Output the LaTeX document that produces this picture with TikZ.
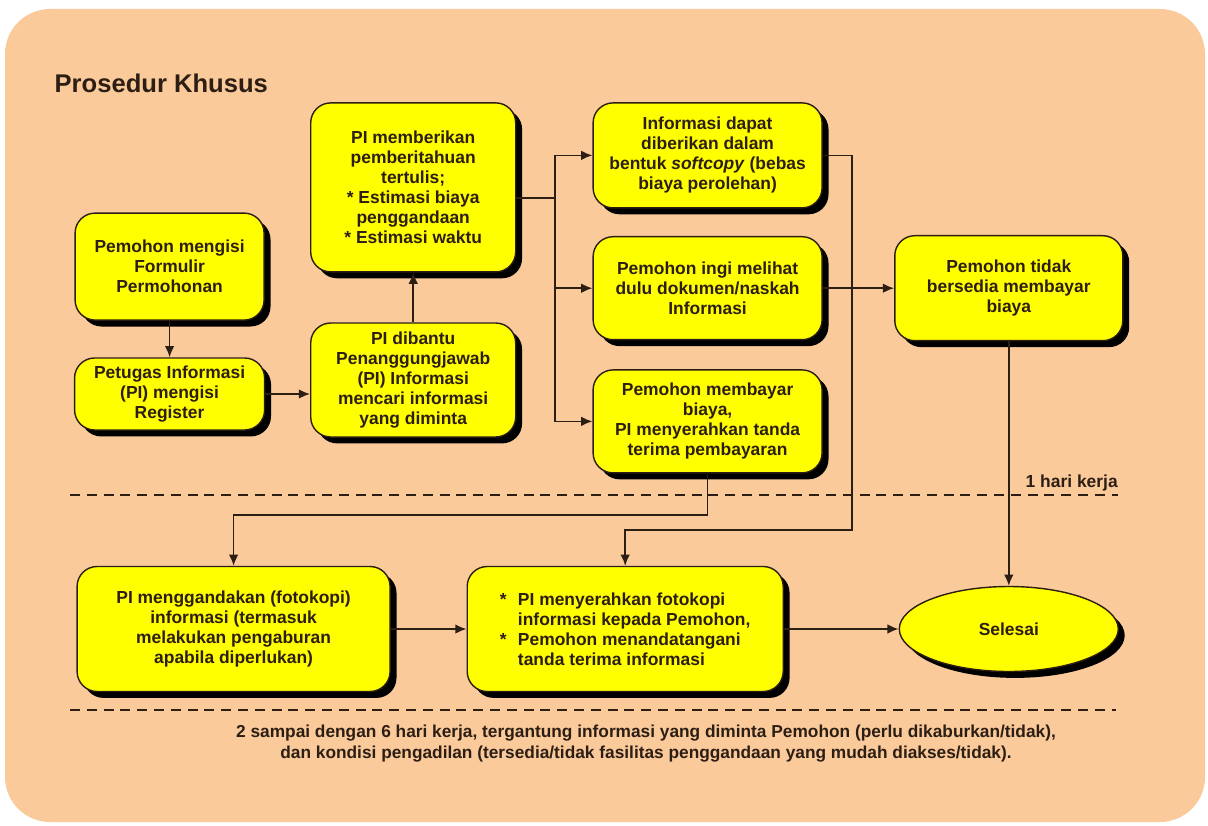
\documentclass[tikz,border=0pt]{standalone}
\usepackage{fontspec}
\setmainfont{Liberation Sans}
\usetikzlibrary{shapes.geometric,shadows,arrows.meta}
\definecolor{latar}{RGB}{250,202,155}
\definecolor{kuning}{RGB}{255,255,0}
\definecolor{gelap}{RGB}{45,30,20}
\tikzset{
    kotak/.style={draw=gelap,line width=1pt,fill=kuning,rounded corners=0.5cm,inner sep=0pt,align=center,text=gelap,font=\fontsize{12.4}{14.2}\selectfont\bfseries,drop shadow={shadow xshift=0.16cm,shadow yshift=-0.16cm,fill=black,opacity=1}},
    panah/.style={draw=gelap,line width=1.2pt,-{Latex[length=2.8mm,width=2.4mm]}},
    garis/.style={draw=gelap,line width=1.4pt,dash pattern=on 0.25cm off 0.17cm},
    tulisan/.style={text=gelap,inner sep=0pt,font=\fontsize{12.4}{14.2}\selectfont\bfseries}
}
\begin{document}
\begin{tikzpicture}
            \useasboundingbox (0,0) rectangle (30.2,20.625);
            \fill[latar,rounded corners=1.125cm] (0.125,0.075) rectangle (30.125,20.4);

            \node[tulisan,anchor=base west,font=\fontsize{18.2}{22}\selectfont\bfseries] (judul) at (1.36, 18.3) {Prosedur Khusus};

            \node[kotak,minimum width=4.725cm,minimum height=2.675cm] (A) at (4.24, 13.96) {Pemohon mengisi\\Formulir\\Permohonan};
            \node[kotak,minimum width=4.75cm,minimum height=1.8cm] (B) at (4.24, 10.775) {Petugas Informasi\\(PI) mengisi\\Register};
            \node[kotak,minimum width=5.125cm,minimum height=2.85cm] (C) at (10.33, 11.125) {PI dibantu\\Penanggungjawab\\(PI) Informasi\\mencari informasi\\yang diminta};
            \node[kotak,minimum width=5.125cm,minimum height=4.225cm] (D) at (10.33, 15.94) {PI memberikan\\pemberitahuan\\tertulis;\\* Estimasi biaya\\penggandaan\\* Estimasi waktu};
            \node[kotak,minimum width=5.725cm,minimum height=2.625cm] (E) at (17.69, 16.74) {Informasi dapat\\diberikan dalam\\bentuk \textit{softcopy} (bebas\\biaya perolehan)};
            \node[kotak,minimum width=5.725cm,minimum height=2.575cm] (F) at (17.69, 13.42) {Pemohon ingi melihat\\dulu dokumen/naskah\\Informasi};
            \node[kotak,minimum width=5.725cm,minimum height=2.575cm] (G) at (17.69, 10.09) {Pemohon membayar\\biaya,\\PI menyerahkan tanda\\terima pembayaran};
            \node[kotak,minimum width=5.7cm,minimum height=2.625cm] (H) at (25.22, 13.42) {Pemohon tidak\\bersedia membayar\\biaya};

            \node[kotak,minimum width=7.825cm,minimum height=3.125cm] (I) at (5.84, 4.9) {PI menggandakan (fotokopi)\\informasi (termasuk\\melakukan pengaburan\\apabila diperlukan)};
            \node[kotak,align=left,minimum width=7.9cm,minimum height=3.125cm] (J) at (15.63, 4.9) {\makebox[0.45cm][l]{*}PI menyerahkan fotokopi\\\hspace*{0.45cm}informasi kepada Pemohon,\\\makebox[0.45cm][l]{*}Pemohon menandatangani\\\hspace*{0.45cm}tanda terima informasi};
            \node[kotak,ellipse,minimum width=5.475cm,minimum height=2.125cm] (K) at (25.22, 4.9) {Selesai};

            \coordinate (cabang) at (13.875, 15.675);
            \coordinate (belokE) at (21.3, 7.375);
            \coordinate (belokG) at (17.69, 7.75);

            \draw[panah] (A) to (B);
            \draw[panah] (B.east) -- (B.east -| C.west);
            \draw[panah] (C) to (D);
            \draw[draw=gelap,line width=1.2pt] (D.east |- cabang) -- (cabang);
            \draw[panah] (cabang) |- (E.west);
            \draw[panah] (cabang) |- (F.west);
            \draw[panah] (cabang) |- (G.west);
            \draw[panah] (E.east) -| (belokE) -| (J.north);
            \draw[panah] (F) to (H);
            \draw[panah] (G.south) -- (belokG) -| (I.north);
            \draw[panah] (H) to (K);
            \draw[panah] (I) to (J);
            \draw[panah] (J) to (K);

            \coordinate (garisA1) at (1.75, 8.25);
            \coordinate (garisA2) at (27.95, 8.25);
            \coordinate (garisB1) at (1.75, 2.875);
            \coordinate (garisB2) at (27.9, 2.875);
            \draw[garis] (garisA1) -- (garisA2);
            \draw[garis] (garisB1) -- (garisB2);

            \node[tulisan,anchor=base east] (hari) at (27.95, 8.45) {1 hari kerja};
            \node[tulisan,anchor=north,align=center,font=\fontsize{12.3}{14.4}\selectfont\bfseries] (catatan) at (16.15, 2.5) {2 sampai dengan 6 hari kerja, tergantung informasi yang diminta Pemohon (perlu dikaburkan/tidak),\\dan kondisi pengadilan (tersedia/tidak fasilitas penggandaan yang mudah diakses/tidak).};

        \end{tikzpicture}
\end{document}
